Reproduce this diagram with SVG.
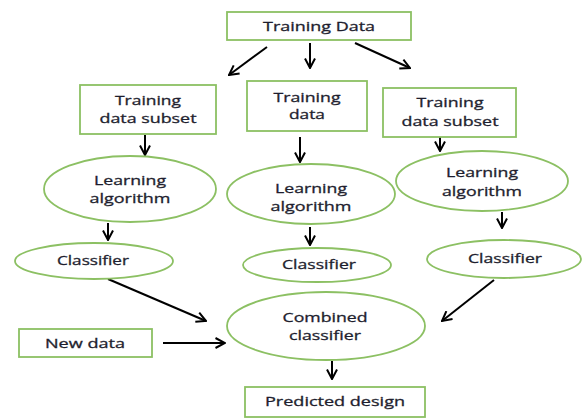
<svg xmlns="http://www.w3.org/2000/svg" width="583" height="420" viewBox="0 0 583 420">
  <style>
    .box { fill: #ffffff; stroke: #8cc063; stroke-width: 1.8; }
    .oval { fill: none; stroke: #8cc063; stroke-width: 1.8; }
    .lbl { font-family: "Open Sans", Lato, "Liberation Sans", sans-serif; font-size: 13px; fill: #1e1e2e; stroke: #1e1e2e; stroke-width: 0.3; text-anchor: middle; font-variant-ligatures: none; }
    .edge { stroke: #000000; stroke-width: 2; fill: none; marker-end: url(#head); }
  </style>
  <defs>
    <marker id="head" viewBox="0 0 12 12" refX="11" refY="6" markerWidth="12" markerHeight="12" markerUnits="userSpaceOnUse" orient="auto">
      <path d="M1.5,1 L11,6 L1.5,11" fill="none" stroke="#000000" stroke-width="2"/>
    </marker>
  </defs>
  <rect width="583" height="420" fill="#ffffff"/>

  <!-- connectors -->
  <g id="connectors">
    <line class="edge" x1="267" y1="47" x2="229" y2="75"/>
    <line class="edge" x1="310" y1="43" x2="310" y2="68"/>
    <line class="edge" x1="355" y1="43" x2="410" y2="68"/>
    <line class="edge" x1="145" y1="135" x2="145" y2="155"/>
    <line class="edge" x1="300" y1="137" x2="300" y2="162"/>
    <line class="edge" x1="440" y1="137" x2="440" y2="151"/>
    <line class="edge" x1="108" y1="223" x2="108" y2="240"/>
    <line class="edge" x1="310" y1="227" x2="310" y2="245"/>
    <line class="edge" x1="502" y1="212" x2="502" y2="228"/>
    <line class="edge" x1="108" y1="279" x2="206" y2="321"/>
    <line class="edge" x1="494" y1="280" x2="442" y2="321"/>
    <line class="edge" x1="163" y1="343" x2="225" y2="343"/>
    <line class="edge" x1="332" y1="361" x2="332" y2="379"/>
  </g>

  <g id="training-data">
    <rect class="box" x="227" y="12" width="184" height="28"/>
    <text class="lbl" x="319" y="30.5" font-size="13.5" textLength="112" lengthAdjust="spacingAndGlyphs">Training Data</text>
  </g>

  <g id="subset-left">
    <rect class="box" x="80" y="85" width="136" height="49"/>
    <text class="lbl" x="148" y="105" textLength="66" lengthAdjust="spacingAndGlyphs">Training</text>
    <text class="lbl" x="148" y="123" textLength="97" lengthAdjust="spacingAndGlyphs">data subset</text>
  </g>

  <g id="training-mid">
    <rect class="box" x="247" y="81" width="120" height="50"/>
    <text class="lbl" x="307" y="102" textLength="67" lengthAdjust="spacingAndGlyphs">Training</text>
    <text class="lbl" x="307" y="119" textLength="36" lengthAdjust="spacingAndGlyphs">data</text>
  </g>

  <g id="subset-right">
    <rect class="box" x="383" y="88" width="133" height="49"/>
    <text class="lbl" x="450" y="107" textLength="67" lengthAdjust="spacingAndGlyphs">Training</text>
    <text class="lbl" x="450" y="126" textLength="97" lengthAdjust="spacingAndGlyphs">data subset</text>
  </g>

  <g id="learn-left">
    <ellipse class="oval" cx="130" cy="189" rx="86" ry="33"/>
    <text class="lbl" x="130" y="185" textLength="72" lengthAdjust="spacingAndGlyphs">Learning</text>
    <text class="lbl" x="130" y="203" textLength="81" lengthAdjust="spacingAndGlyphs">algorithm</text>
  </g>

  <g id="learn-mid">
    <ellipse class="oval" cx="311" cy="194" rx="84" ry="30"/>
    <text class="lbl" x="311" y="193" textLength="72" lengthAdjust="spacingAndGlyphs">Learning</text>
    <text class="lbl" x="311" y="211" textLength="81" lengthAdjust="spacingAndGlyphs">algorithm</text>
  </g>

  <g id="learn-right">
    <ellipse class="oval" cx="482" cy="181" rx="86" ry="30"/>
    <text class="lbl" x="482" y="177" textLength="72" lengthAdjust="spacingAndGlyphs">Learning</text>
    <text class="lbl" x="482" y="196" textLength="80" lengthAdjust="spacingAndGlyphs">algorithm</text>
  </g>

  <g id="classifier-left">
    <ellipse class="oval" cx="94" cy="261" rx="79" ry="18"/>
    <text class="lbl" x="93" y="265" textLength="72" lengthAdjust="spacingAndGlyphs">Classifier</text>
  </g>

  <g id="classifier-mid">
    <ellipse class="oval" cx="317" cy="265" rx="74" ry="17"/>
    <text class="lbl" x="319" y="269" textLength="74" lengthAdjust="spacingAndGlyphs">Classifier</text>
  </g>

  <g id="classifier-right">
    <ellipse class="oval" cx="504" cy="259" rx="77" ry="19"/>
    <text class="lbl" x="505" y="263" textLength="74" lengthAdjust="spacingAndGlyphs">Classifier</text>
  </g>

  <g id="combined">
    <ellipse class="oval" cx="326" cy="326" rx="99" ry="34"/>
    <text class="lbl" x="325" y="322" textLength="85" lengthAdjust="spacingAndGlyphs">Combined</text>
    <text class="lbl" x="325" y="340" textLength="72" lengthAdjust="spacingAndGlyphs">classifier</text>
  </g>

  <g id="new-data">
    <rect class="box" x="19" y="329" width="133" height="28"/>
    <text class="lbl" x="85" y="348" textLength="80" lengthAdjust="spacingAndGlyphs">New data</text>
  </g>

  <g id="predicted">
    <rect class="box" x="245" y="387" width="180" height="30"/>
    <text class="lbl" x="335" y="406" textLength="140" lengthAdjust="spacingAndGlyphs">Predicted design</text>
  </g>
</svg>
